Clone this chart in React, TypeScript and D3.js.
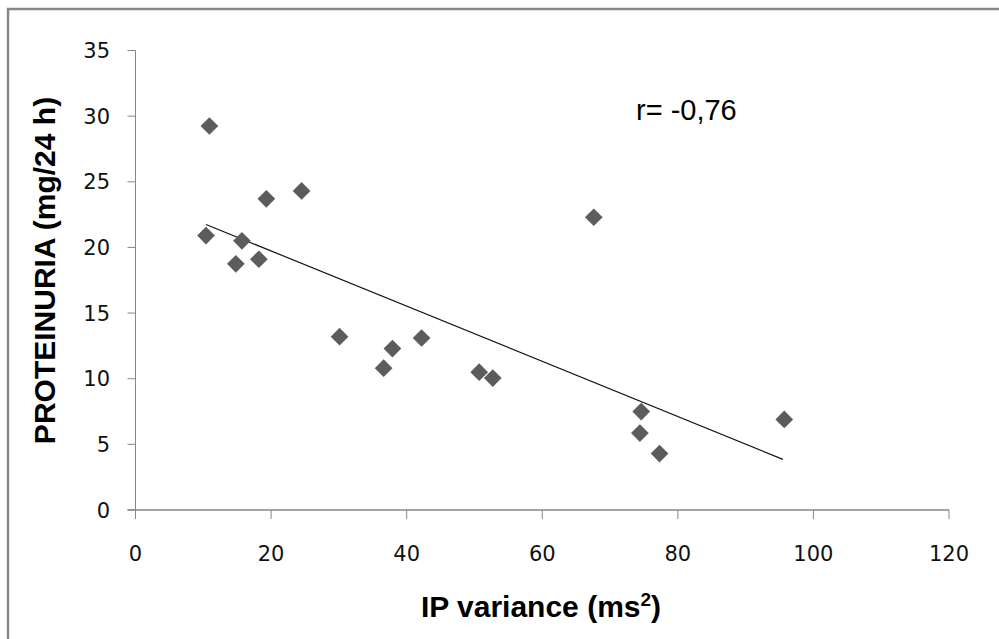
import React, { useEffect, useRef } from "react";
import * as d3 from "d3";

const ipVariance = [10.9, 19.3, 24.5, 10.4, 15.7, 14.8, 18.2, 30.1, 37.9, 36.6, 42.2, 67.6, 50.7, 52.7, 74.6, 74.4, 77.3, 95.7];
const proteinuria = [29.25, 23.7, 24.3, 20.9, 20.5, 18.75, 19.1, 13.2, 12.3, 10.8, 13.1, 22.3, 10.5, 10.05, 7.5, 5.86, 4.3, 6.9];
const trendX = [10.4, 95.5];
const trendY = [21.75, 3.86];
const xTicks = [0, 20, 40, 60, 80, 100, 120];
const yTicks = [0, 5, 10, 15, 20, 25, 30, 35];
const annotation = "r= -0,76";
const xTitle = "IP variance (ms";
const xTitleSup = "2";
const yTitle = "PROTEINURIA (mg/24 h)";

const W = 999;
const H = 639;

export default function App() {
  const ref = useRef<SVGSVGElement | null>(null);

  useEffect(() => {
    const svg = d3.select(ref.current);
    svg.selectAll("*").remove();

    const x = d3.scaleLinear().domain([0, 120]).range([135.5, 949]);
    const y = d3.scaleLinear().domain([0, 35]).range([510, 50.5]);
    const axisColor = "#868686";
    const tickFont = "'DejaVu Sans', sans-serif";

    // frame
    svg.append("path")
      .attr("d", `M8,${H + 5} L8,9 L${W + 5},9`)
      .attr("fill", "none")
      .attr("stroke", "#878787")
      .attr("stroke-width", 2.5);

    // y axis
    const gy = svg.append("g");
    gy.append("line")
      .attr("x1", x(0)).attr("x2", x(0))
      .attr("y1", y(0)).attr("y2", y(35))
      .attr("stroke", axisColor).attr("stroke-width", 1);
    yTicks.forEach((t) => {
      gy.append("line")
        .attr("x1", x(0) - 8).attr("x2", x(0))
        .attr("y1", y(t)).attr("y2", y(t))
        .attr("stroke", axisColor).attr("stroke-width", 1);
      gy.append("text")
        .attr("x", 110).attr("y", y(t))
        .attr("dy", "0.36em")
        .attr("text-anchor", "end")
        .attr("font-family", tickFont)
        .attr("font-size", 21)
        .attr("fill", "#111")
        .text(String(t));
    });

    // x axis
    const gx = svg.append("g");
    gx.append("line")
      .attr("x1", x(0) - 8).attr("x2", x(120))
      .attr("y1", y(0)).attr("y2", y(0))
      .attr("stroke", axisColor).attr("stroke-width", 1.5);
    xTicks.forEach((t) => {
      gx.append("line")
        .attr("x1", x(t)).attr("x2", x(t))
        .attr("y1", y(0)).attr("y2", y(0) + 9)
        .attr("stroke", axisColor).attr("stroke-width", 1);
      gx.append("text")
        .attr("x", x(t)).attr("y", 553)
        .attr("dy", "0.36em")
        .attr("text-anchor", "middle")
        .attr("font-family", tickFont)
        .attr("font-size", 21)
        .attr("fill", "#111")
        .text(String(t));
    });

    // trend line
    const line = d3.line<number>()
      .x((_, i) => x(trendX[i]))
      .y((d) => y(d));
    svg.append("path")
      .attr("d", line(trendY) || "")
      .attr("fill", "none")
      .attr("stroke", "#111")
      .attr("stroke-width", 1.2);

    // points
    const sym = d3.symbol().type(d3.symbolDiamond2).size(200);
    svg.append("g")
      .selectAll("path")
      .data(ipVariance.map((v, i) => [v, proteinuria[i]]))
      .join("path")
      .attr("d", sym() || "")
      .attr("transform", (d) => `translate(${x(d[0])},${y(d[1])})`)
      .attr("fill", "#5c5c5c");

    // annotation
    svg.append("text")
      .attr("x", 636).attr("y", 120)
      .attr("font-family", "'Liberation Sans', Arial, sans-serif")
      .attr("font-size", 29)
      .attr("fill", "#000")
      .text(annotation);

    // x title
    const xt = svg.append("text")
      .attr("x", 541).attr("y", 617)
      .attr("text-anchor", "middle")
      .attr("font-family", "'Liberation Sans', Arial, sans-serif")
      .attr("font-weight", "bold")
      .attr("font-size", 30)
      .attr("fill", "#000");
    xt.append("tspan").text(xTitle);
    xt.append("tspan").attr("font-size", 19).attr("dy", -11).text(xTitleSup);
    xt.append("tspan").attr("dy", 11).text(")");

    // y title
    svg.append("text")
      .attr("transform", `translate(55,${270.5}) rotate(-90)`)
      .attr("text-anchor", "middle")
      .attr("font-family", "'Liberation Sans', Arial, sans-serif")
      .attr("font-weight", "bold")
      .attr("font-size", 30)
      .attr("fill", "#000")
      .text(yTitle);
  }, []);

  return (
    <div style={{ position: "absolute", left: 0, top: 0, width: W, height: H, background: "#fff" }}>
      <svg ref={ref} width={W} height={H} style={{ display: "block" }} />
    </div>
  );
}
